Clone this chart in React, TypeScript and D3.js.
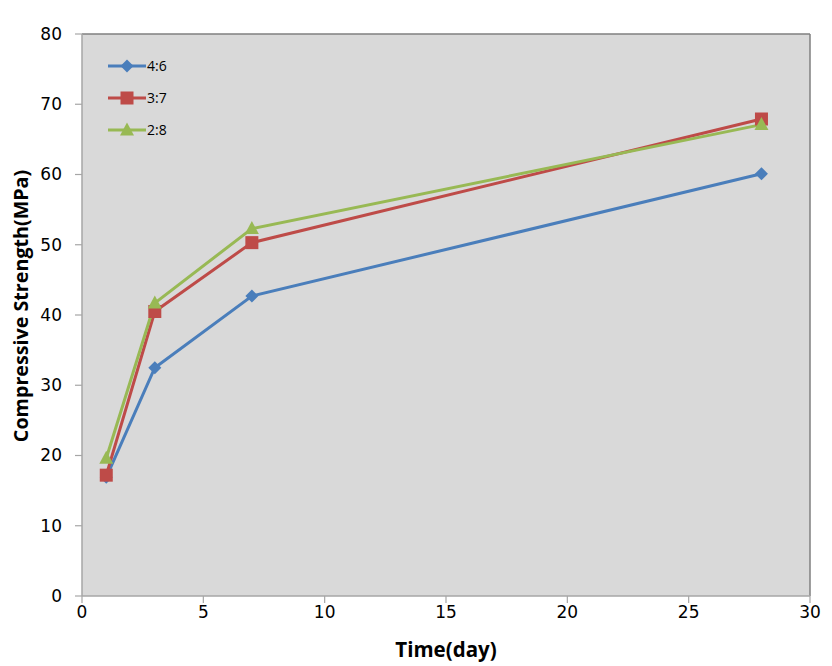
import React from "react";
import * as d3 from "d3";

const days = [1, 3, 7, 28];
const s46 = [16.9, 32.5, 42.7, 60.1];
const s37 = [17.2, 40.5, 50.3, 67.9];
const s28 = [19.6, 41.7, 52.3, 67.1];
const seriesNames = ["4:6", "3:7", "2:8"];
const colors = ["#4a7ebb", "#be4b48", "#98b954"];
const xTicks = [0, 5, 10, 15, 20, 25, 30];
const yTicks = [0, 10, 20, 30, 40, 50, 60, 70, 80];

const W = 832, H = 666;
const L = 82, R = 810, T = 34, B = 596;

function Marker({ type, x, y, color }: { type: number; x: number; y: number; color: string }) {
  if (type === 0) {
    const s = 6.5;
    return <path d={`M${x},${y - s}L${x + s},${y}L${x},${y + s}L${x - s},${y}Z`} fill={color} />;
  }
  if (type === 1) {
    return <rect x={x - 6.5} y={y - 6.5} width={13} height={13} fill={color} />;
  }
  return <path d={`M${x},${y - 7.5}L${x + 7},${y + 5.5}L${x - 7},${y + 5.5}Z`} fill={color} />;
}

export default function App() {
  const x = d3.scaleLinear().domain([0, 30]).range([L, R]);
  const y = d3.scaleLinear().domain([0, 80]).range([B, T]);
  const all = [s46, s37, s28];
  const line = d3.line<number>().x((_, i) => x(days[i])).y((d) => y(d));
  const tickFont = "'DejaVu Sans', Verdana, sans-serif";
  const titleFont = "'Open Sans', 'Liberation Sans', sans-serif";
  return (
    <svg width={W} height={H} style={{ position: "absolute", left: 0, top: 0, background: "#fff" }}>
      <rect x={L} y={T} width={R - L} height={B - T} fill="#d9d9d9" />
      <line x1={L} y1={T} x2={R} y2={T} stroke="#7f7f7f" strokeWidth={1.5} />
      <line x1={R} y1={T} x2={R} y2={B} stroke="#7f7f7f" strokeWidth={1.5} />
      <line x1={L} y1={T} x2={L} y2={B} stroke="#a6a6a6" strokeWidth={1.5} />
      <line x1={L} y1={B} x2={R} y2={B} stroke="#a6a6a6" strokeWidth={1.5} />
      {yTicks.map((t) => (
        <g key={"y" + t}>
          <line x1={L - 7} x2={L} y1={y(t)} y2={y(t)} stroke="#a6a6a6" strokeWidth={1.2} />
          <text x={62} y={y(t)} dy="0.35em" textAnchor="end" fontFamily={tickFont} fontSize={17} fill="#000">
            {t}
          </text>
        </g>
      ))}
      {xTicks.map((t) => (
        <g key={"x" + t}>
          <line x1={x(t)} x2={x(t)} y1={B} y2={B + 7} stroke="#a6a6a6" strokeWidth={1.2} />
          <text x={x(t)} y={618} textAnchor="middle" fontFamily={tickFont} fontSize={17} fill="#000">
            {t}
          </text>
        </g>
      ))}
      {all.map((s, k) => (
        <path key={"l" + k} d={line(s) || ""} fill="none" stroke={colors[k]} strokeWidth={3} />
      ))}
      {all.map((s, k) =>
        s.map((v, i) => <Marker key={`m${k}-${i}`} type={k} x={x(days[i])} y={y(v)} color={colors[k]} />)
      )}
      {seriesNames.map((n, k) => {
        const ly = 66 + k * 32;
        return (
          <g key={"lg" + k}>
            <line x1={108} x2={146} y1={ly} y2={ly} stroke={colors[k]} strokeWidth={3} />
            <Marker type={k} x={127} y={ly} color={colors[k]} />
            <text x={147} y={ly} dy="0.35em" fontFamily={titleFont} fontSize={14} fill="#000">
              {n}
            </text>
          </g>
        );
      })}
      <text x={446} y={657} textAnchor="middle" fontFamily={titleFont} fontWeight="bold" fontSize={20.5} fill="#000">
        Time(day)
      </text>
      <text
        transform={`translate(28,306) rotate(-90)`}
        textAnchor="middle"
        fontFamily={titleFont}
        fontWeight="bold"
        fontSize={19.7}
        fill="#000"
      >
        Compressive Strength(MPa)
      </text>
    </svg>
  );
}
